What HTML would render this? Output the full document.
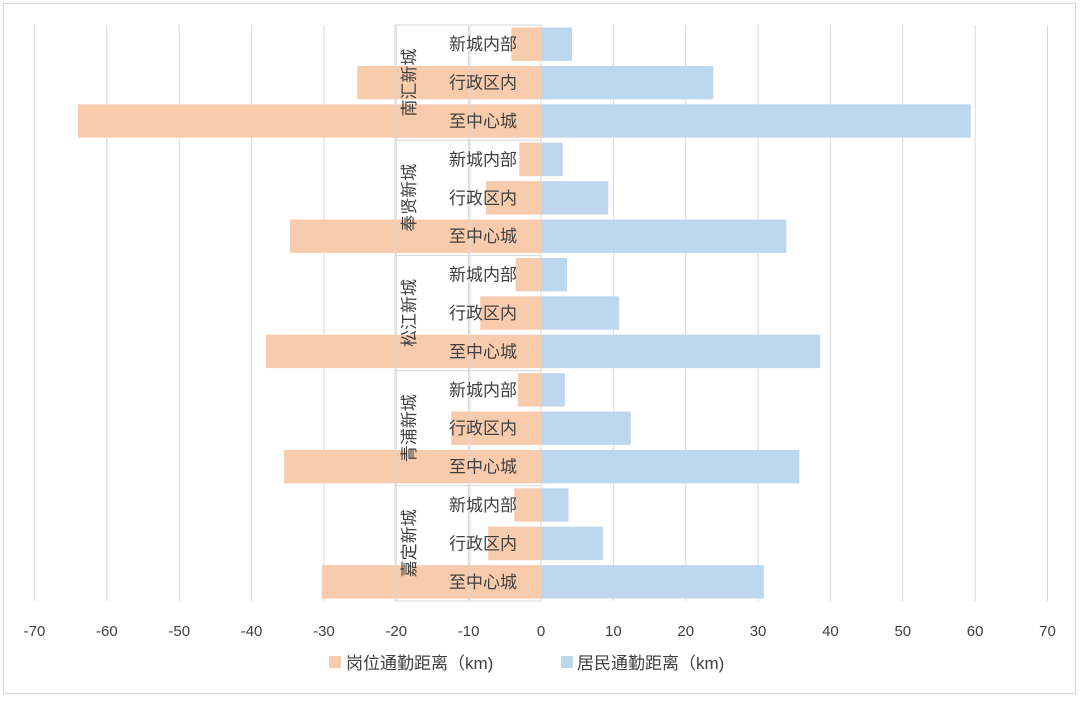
<!DOCTYPE html>
<html><head><meta charset="utf-8"><style>
body{margin:0;background:#fff;}
svg text{font-family:"Liberation Sans","Noto Sans CJK SC",sans-serif;fill:#404040;}
</style></head><body>
<svg width="1080" height="699" xmlns="http://www.w3.org/2000/svg">
<rect x="3.5" y="3.5" width="1072" height="690" fill="#fff" stroke="#d9d9d9"/>
<g id="grid"></g><g id="bars"></g><g id="labels"></g><g id="ticks"></g>
<g>
<rect x="329" y="656" width="12" height="12" fill="#f8cbad"/>
<text x="346" y="669" font-size="17">岗位通勤距离（km)</text>
<rect x="561" y="656" width="12" height="12" fill="#bdd7ee"/>
<text x="577" y="669" font-size="17">居民通勤距离（km)</text>
</g>
</svg>
<script>
const groups=["南汇新城","奉贤新城","松江新城","青浦新城","嘉定新城"];
const subcats=["新城内部","行政区内","至中心城"];
const jobDist=[-4.1,-25.4,-64,-3,-7.6,-34.7,-3.5,-8.4,-38,-3.2,-12.4,-35.5,-3.7,-7.3,-30.3];
const resDist=[4.3,23.8,59.4,3.0,9.3,33.9,3.6,10.8,38.6,3.3,12.4,35.7,3.8,8.6,30.8];
const tickVals=[-70,-60,-50,-40,-30,-20,-10,0,10,20,30,40,50,60,70];
const NS="http://www.w3.org/2000/svg";
const x=v=>541+v*(1013/140);
const top0=25,bandH=38.4;
const y=i=>top0+i*bandH;
function mk(tag,attrs,parent){const e=document.createElementNS(NS,tag);for(const k in attrs)e.setAttribute(k,attrs[k]);document.getElementById(parent).appendChild(e);return e;}
tickVals.forEach(v=>{
 const l=mk('line',{x1:x(v),x2:x(v),y1:top0,y2:top0+15*bandH,stroke:'#d9d9d9'},'grid');
 
 
 const t=mk('text',{x:x(v),y:636,'font-size':15,'text-anchor':'middle'},'ticks');
 
 
 t.textContent=v;
});
jobDist.forEach((v,i)=>{
 const r=mk('rect',{x:x(Math.min(v,0)),y:y(i)+2.5,width:Math.abs(x(v)-x(0)),height:bandH-5,fill:'#f8cbad'},'bars');
 
 
});
resDist.forEach((v,i)=>{
 const r=mk('rect',{x:x(0),y:y(i)+2.5,width:Math.abs(x(v)-x(0)),height:bandH-5,fill:'#bdd7ee'},'bars');
 
 
});
// category axis lines
[395,470].forEach(px=>{
 const l=mk('line',{x1:px,x2:px,y1:top0,y2:top0+15*bandH,stroke:'#d9d9d9'},'labels');
 
 
});
for(let g=0;g<=5;g++){
 const l=mk('line',{x1:395,x2:541,y1:y(g*3),y2:y(g*3),stroke:'#d9d9d9'},'labels');
 
 
}
groups.forEach((g,gi)=>{
 const cy=y(gi*3)+bandH*1.5;
 const t=mk('text',{x:0,y:0,'font-size':17,'text-anchor':'middle',transform:`translate(415,${cy}) rotate(-90)`},'labels');
 
 
 t.textContent=g;
 subcats.forEach((s,si)=>{
  const i=gi*3+si;
  const tt=mk('text',{x:483,y:y(i)+bandH/2+6,'font-size':17,'text-anchor':'middle'},'labels');
  
  
  tt.textContent=s;
 });
});
</script>
</body></html>
